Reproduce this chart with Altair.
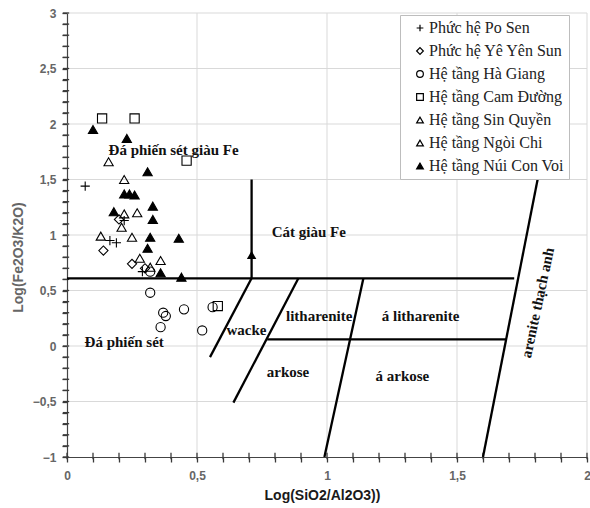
import altair as alt
import pandas as pd

# ---------------- data ----------------
groups = ["Phức hệ Po Sen", "Phức hệ Yê Yên Sun", "Hệ tầng Hà Giang",
          "Hệ tầng Cam Đường", "Hệ tầng Sin Quyền", "Hệ tầng Ngòi Chi",
          "Hệ tầng Núi Con Voi"]

po_sen_x = [0.07, 0.22, 0.165, 0.19, 0.29]
po_sen_y = [1.44, 1.13, 0.95, 0.93, 0.67]

ye_yen_sun_x = [0.20, 0.14, 0.25, 0.30]
ye_yen_sun_y = [1.14, 0.86, 0.74, 0.70]

ha_giang_x = [0.32, 0.32, 0.37, 0.38, 0.36, 0.45, 0.52, 0.56]
ha_giang_y = [0.67, 0.48, 0.30, 0.27, 0.17, 0.33, 0.14, 0.35]

cam_duong_x = [0.135, 0.26, 0.46, 0.58]
cam_duong_y = [2.05, 2.05, 1.67, 0.36]

sin_quyen_x = [0.16, 0.22, 0.27, 0.22, 0.21, 0.25]
sin_quyen_y = [1.66, 1.50, 1.20, 1.19, 1.07, 0.98]

ngoi_chi_x = [0.13, 0.28, 0.36, 0.32]
ngoi_chi_y = [0.99, 0.79, 0.77, 0.71]

nui_con_voi_x = [0.10, 0.23, 0.31, 0.22, 0.24, 0.26, 0.18, 0.33, 0.33, 0.32, 0.43, 0.31, 0.36, 0.44]
nui_con_voi_y = [1.95, 1.87, 1.57, 1.37, 1.37, 1.36, 1.21, 1.26, 1.14, 0.98, 0.97, 0.88, 0.66, 0.62]

# classification boundary segments
seg_x1 = [0.0, 0.71, 0.71, 0.89, 1.14, 1.81, 0.77]
seg_y1 = [0.61, 0.61, 0.61, 0.61, 0.61, 1.50, 0.06]
seg_x2 = [1.72, 0.71, 0.55, 0.64, 0.99, 1.60, 1.69]
seg_y2 = [0.61, 1.50, -0.10, -0.51, -1.00, -1.00, 0.06]

# arrow head on the vertical boundary
arrow_x = [0.71]
arrow_y = [0.82]

# field labels
field_text = ["Đá phiến sét giàu Fe", "Cát giàu Fe", "Đá phiến sét", "wacke",
              "litharenite", "á litharenite", "arkose", "á arkose"]
field_x = [0.41, 0.93, 0.22, 0.69, 0.97, 1.36, 0.85, 1.29]
field_y = [1.77, 1.03, 0.04, 0.14, 0.27, 0.27, -0.23, -0.27]

rot_text = ["arenite thạch anh"]
rot_x = [1.81]
rot_y = [0.39]

# axis ticks (minor every 0.1) and major gridlines
x_ticks = [round(i * 0.1, 1) for i in range(0, 21)]
y_ticks = [round(-1 + i * 0.1, 1) for i in range(0, 41)]
grid_x = [0.5, 1.0, 1.5, 2.0]
grid_y = [-0.5, 0.0, 0.5, 1.0, 1.5, 2.0, 2.5, 3.0]

# ---------------- tables ----------------
series = [(groups[0], po_sen_x, po_sen_y), (groups[1], ye_yen_sun_x, ye_yen_sun_y),
          (groups[2], ha_giang_x, ha_giang_y), (groups[3], cam_duong_x, cam_duong_y),
          (groups[4], sin_quyen_x, sin_quyen_y), (groups[5], ngoi_chi_x, ngoi_chi_y),
          (groups[6], nui_con_voi_x, nui_con_voi_y)]
rows = []
for g, xs, ys in series:
    for a, b in zip(xs, ys):
        rows.append({"group": g, "x": a, "y": b})
pts = pd.DataFrame(rows)

segs = pd.DataFrame({"x": seg_x1, "y": seg_y1, "x2": seg_x2, "y2": seg_y2})
arrow = pd.DataFrame({"x": arrow_x, "y": arrow_y})
labels = pd.DataFrame({"t": field_text, "x": field_x, "y": field_y})
rlabels = pd.DataFrame({"t": rot_text, "x": rot_x, "y": rot_y})
gx = pd.DataFrame({"x": grid_x})
gy = pd.DataFrame({"y": grid_y})
tx = pd.DataFrame({"x": x_ticks})
ty = pd.DataFrame({"y": y_ticks})

major = "abs(datum.value*2 - round(datum.value*2)) < 0.001"
label_expr = f"({major}) ? replace(format(datum.value, ''), '.', ',') : ''"

xscale = alt.Scale(domain=[0, 2], nice=False, zero=False)
yscale = alt.Scale(domain=[-1, 3], nice=False, zero=False)

xaxis = alt.Axis(values=x_ticks, labelExpr=label_expr, grid=False,
                 ticks=True, labelOverlap=False,
                 title="Log(SiO2/Al2O3))", titleFont="Liberation Sans", titleFontSize=14,
                 titleFontWeight="bold", titleColor="#1a1a1a", titleX=255, titleY=31,
                 labelFont="Liberation Sans", labelFontSize=12, labelFontWeight="bold",
                 labelColor="#666666", labelPadding=8, tickSize=5, tickColor="#3a3a3a",
                 tickWidth=1.3, tickOpacity=1,
                 domainColor="#444444", domainWidth=1.2, labelFlush=False)
yaxis = alt.Axis(values=y_ticks, labelExpr=label_expr, grid=False,
                 ticks=True, labelOverlap=False,
                 title="Log(Fe2O3/K2O)", titleFont="Liberation Sans", titleFontSize=14,
                 titleFontWeight="bold", titleColor="#666666", titleX=-42, titleY=244,
                 labelFont="Liberation Sans", labelFontSize=12, labelFontWeight="bold",
                 labelColor="#666666", labelPadding=6, tickSize=5, tickColor="#3a3a3a",
                 tickWidth=1.3, tickOpacity=1,
                 domainColor="#444444", domainWidth=1.2, labelFlush=False)

X = alt.X("x:Q", scale=xscale, axis=xaxis)
Y = alt.Y("y:Q", scale=yscale, axis=yaxis)

cross_path = "M-1,0H1M0,-1V1"
shape_range = [cross_path, "diamond", "circle", "square", "triangle-up", "triangle-up", "triangle-up"]
fill_range = ["transparent"] * 6 + ["black"]

grid_v = alt.Chart(gx).mark_rule(color="#d9d9d9", strokeWidth=1).encode(x=X)
grid_h = alt.Chart(gy).mark_rule(color="#d9d9d9", strokeWidth=1).encode(y=Y)

# small tick marks along both axes (short line symbols)
ticks_x = alt.Chart(tx).mark_point(shape="M0,-1V1", stroke="#3a3a3a", strokeWidth=1.3,
                                   size=40, opacity=1, filled=False).encode(
    x=X, y=alt.value(443))
ticks_y = alt.Chart(ty).mark_point(shape="M-1,0H1", stroke="#3a3a3a", strokeWidth=1.3,
                                   size=40, opacity=1, filled=False).encode(
    y=Y, x=alt.value(-1))

base_lines = alt.Chart(segs).mark_rule(color="black", strokeWidth=2.3).encode(
    x=X, y=Y, x2="x2:Q", y2="y2:Q")

arrow_mark = alt.Chart(arrow).mark_point(shape="triangle-up", filled=True, color="black",
                                         size=90, opacity=1).encode(x=X, y=Y)

points = alt.Chart(pts).mark_point(strokeWidth=1.1, size=85, opacity=1).encode(
    x=X, y=Y,
    shape=alt.Shape("group:N", scale=alt.Scale(domain=groups, range=shape_range),
                    legend=alt.Legend(title=None)),
    fill=alt.Fill("group:N", scale=alt.Scale(domain=groups, range=fill_range),
                  legend=alt.Legend(title=None)),
    stroke=alt.Stroke("group:N", scale=alt.Scale(domain=groups, range=["black"] * 7),
                      legend=alt.Legend(title=None)),
)

text_marks = alt.Chart(labels).mark_text(font="Liberation Serif", fontSize=15,
                                         fontWeight="bold", color="#111111").encode(
    x=X, y=Y, text="t:N")

rot_marks = alt.Chart(rlabels).mark_text(font="Liberation Serif", fontSize=15,
                                         fontWeight="bold", color="#111111", angle=282).encode(
    x=X, y=Y, text="t:N")

chart = alt.layer(grid_v, grid_h, ticks_x, ticks_y, base_lines, text_marks, rot_marks,
                  arrow_mark, points).properties(
    width=520, height=444,
    autosize=alt.AutoSizeParams(type="none"),
    padding={"left": 67, "top": 13, "right": 3, "bottom": 51},
).configure_view(stroke=None).configure_legend(
    orient="none", legendX=333, legendY=2,
    strokeColor="#bdbdbd", fillColor="white", padding=5,
    labelFont="Liberation Serif", labelFontSize=16, labelColor="#222222",
    symbolSize=45, symbolStrokeWidth=1.2,
    symbolOffset=7, rowPadding=7, labelOffset=1, labelLimit=300,
)

chart.save("out.html", embed_options={"renderer": "svg", "actions": False})
